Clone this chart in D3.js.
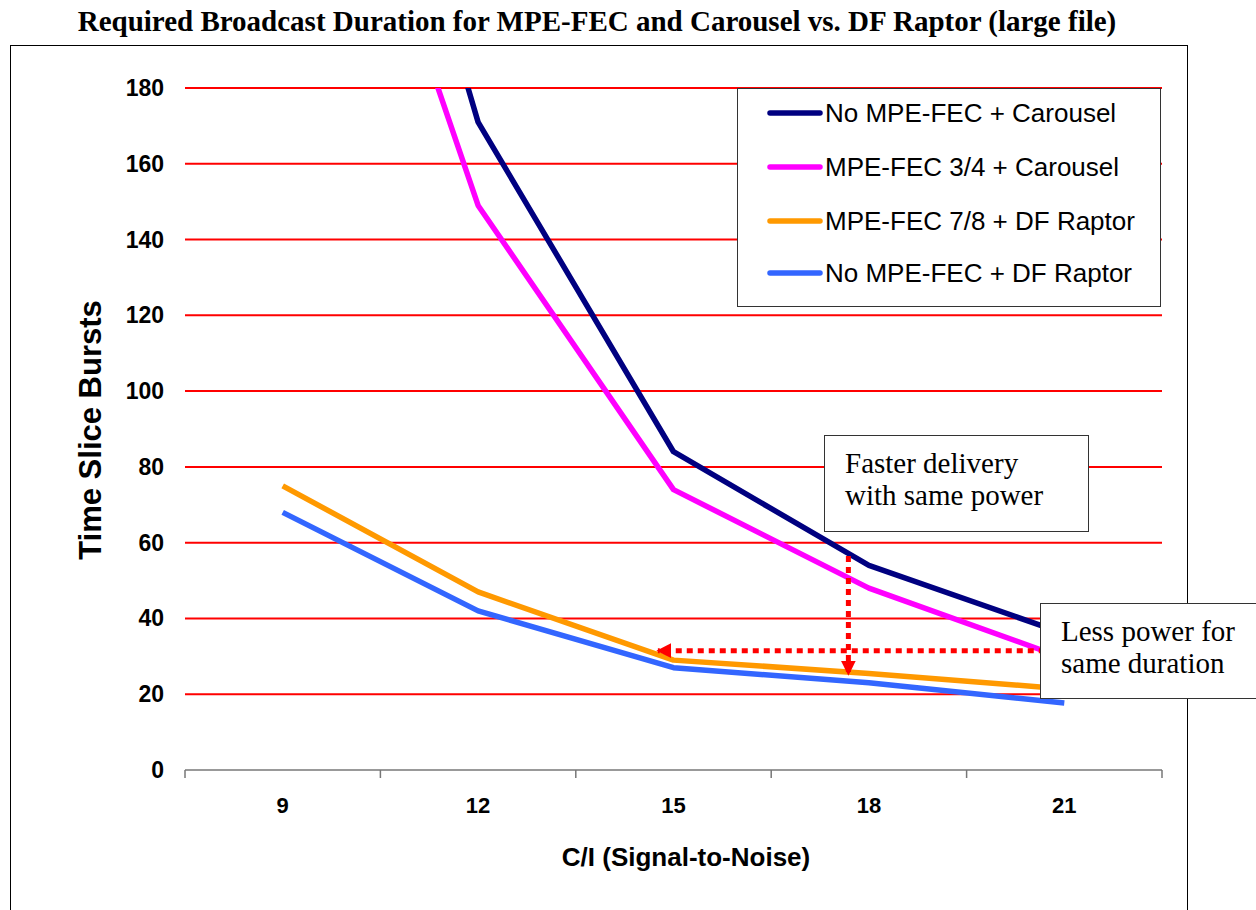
<!DOCTYPE html>
<html>
<head>
<meta charset="utf-8">
<script src="https://cdn.jsdelivr.net/npm/d3@7"></script>
<style>
  body { margin: 0; background: #fff; }
  svg { display: block; }
</style>
</head>
<body>
<div id="chart"></div>
<script>
// data
var categories = [9, 12, 15, 18, 21];
var seriesNames = ["No MPE-FEC + Carousel", "MPE-FEC 3/4 + Carousel", "MPE-FEC 7/8 + DF Raptor", "No MPE-FEC + DF Raptor"];
var noFecCarousel = [346, 171, 84, 54, 36];
var fec34Carousel = [300, 149, 74, 48, 29.5];
var fec78Raptor = [75, 47, 29, 25.5, 21.4];
var noFecRaptor = [68, 42, 27, 23, 17.7];
var yTicks = [0, 20, 40, 60, 80, 100, 120, 140, 160, 180];
var colors = ["#000080", "#ff00ff", "#ff9900", "#3366ff"];

var svgWidth = 1256;
var svgHeight = 910;
var plot = { left: 185, right: 1162, top: 88, bottom: 770 };
var sans = "Liberation Sans, Arial, sans-serif";
var serif = "Liberation Serif, Times New Roman, serif";

var svg = d3.select("#chart")
    .append("svg")
    .attr("width", svgWidth)
    .attr("height", svgHeight);

// title
svg.append("text")
    .attr("x", 597)
    .attr("y", 31)
    .attr("text-anchor", "middle")
    .style("font-family", serif)
    .style("font-weight", "bold")
    .style("font-size", "29px")
    .text("Required Broadcast Duration for MPE-FEC and Carousel vs. DF Raptor (large file)");

// outer frame
svg.append("rect")
    .attr("x", 10.5).attr("y", 45.5)
    .attr("width", 1177).attr("height", 900)
    .attr("fill", "none")
    .attr("stroke", "#000")
    .attr("stroke-width", 1);

//(scales)
var xScale = d3.scalePoint().domain(categories).range([plot.left, plot.right]).padding(0.5);
var xIdx = d3.scaleLinear().domain([-0.5, categories.length - 0.5]).range([plot.left, plot.right]);
var yScale = d3.scaleLinear().domain([0, 180]).range([plot.bottom, plot.top]);

// gridlines
svg.append("g")
    .selectAll("line")
    .data(yTicks.filter(d => d > 0))
    .enter()
    .append("line")
    .attr("x1", plot.left).attr("x2", plot.right)
    .attr("y1", d => yScale(d)).attr("y2", d => yScale(d))
    .attr("stroke", "#ff0000")
    .attr("stroke-width", 2);

// y tick labels
svg.append("g")
    .selectAll("text")
    .data(yTicks)
    .enter()
    .append("text")
    .attr("x", 164)
    .attr("y", d => yScale(d) + 8)
    .attr("text-anchor", "end")
    .style("font-family", sans)
    .style("font-weight", "bold")
    .style("font-size", "23px")
    .text(d => d);

// x axis
var axisG = svg.append("g").attr("stroke", "#777").attr("stroke-width", 1.5);
axisG.append("line")
    .attr("x1", plot.left).attr("x2", plot.right)
    .attr("y1", plot.bottom).attr("y2", plot.bottom);
axisG.selectAll(".tk")
    .data(d3.range(categories.length + 1))
    .enter()
    .append("line")
    .attr("x1", d => xIdx(d - 0.5)).attr("x2", d => xIdx(d - 0.5))
    .attr("y1", plot.bottom).attr("y2", plot.bottom + 8);

svg.append("g")
    .selectAll("text")
    .data(categories)
    .enter()
    .append("text")
    .attr("x", d => xScale(d))
    .attr("y", 813)
    .attr("text-anchor", "middle")
    .style("font-family", sans)
    .style("font-weight", "bold")
    .style("font-size", "22px")
    .text(d => d);

// axis titles
svg.append("text")
    .attr("x", 686).attr("y", 866)
    .attr("text-anchor", "middle")
    .style("font-family", sans)
    .style("font-weight", "bold")
    .style("font-size", "26px")
    .text("C/I (Signal-to-Noise)");

svg.append("text")
    .attr("transform", "translate(101, 430) rotate(-90)")
    .attr("text-anchor", "middle")
    .style("font-family", sans)
    .style("font-weight", "bold")
    .style("font-size", "31px")
    .text("Time Slice Bursts");

// series lines, clipped at the axis max
svg.append("clipPath").attr("id", "plotClip")
    .append("rect")
    .attr("x", plot.left).attr("y", plot.top)
    .attr("width", plot.right - plot.left).attr("height", plot.bottom - plot.top);

var series = [noFecCarousel, fec34Carousel, fec78Raptor, noFecRaptor];
var line = d3.line()
    .x((d, i) => xScale(categories[i]))
    .y(d => yScale(d));

svg.append("g")
    .attr("clip-path", "url(#plotClip)")
    .selectAll("path")
    .data(series)
    .enter()
    .append("path")
    .attr("d", d => line(d))
    .attr("fill", "none")
    .attr("stroke", (d, i) => colors[i])
    .attr("stroke-width", 5.5)
    .attr("stroke-linejoin", "round");

// legend
var legend = svg.append("g");
legend.append("rect")
    .attr("x", 737.5).attr("y", 88.5)
    .attr("width", 423).attr("height", 218)
    .attr("fill", "#fff")
    .attr("stroke", "#333")
    .attr("stroke-width", 1);
var legRows = [113, 167, 221, 273];
seriesNames.forEach(function (name, i) {
    legend.append("line")
        .attr("x1", 770).attr("x2", 820)
        .attr("y1", legRows[i]).attr("y2", legRows[i])
        .attr("stroke", colors[i])
        .attr("stroke-width", 5.5)
        .attr("stroke-linecap", "round");
    legend.append("text")
        .attr("x", 825).attr("y", legRows[i] + 9)
        .style("font-family", sans)
        .style("font-size", "26px")
        .text(name);
});

// annotation arrows (in data units: category index, value)
var arrows = [
    { x1: 2.895, y1: 56.5, x2: 2.895, y2: 25.3 },
    { x1: 3.9, y1: 31.5, x2: 1.92, y2: 31.5 }
];
svg.append("defs").append("marker")
    .attr("id", "arrowHead")
    .attr("viewBox", "0 0 10 10")
    .attr("refX", 9).attr("refY", 5)
    .attr("markerWidth", 15).attr("markerHeight", 16)
    .attr("markerUnits", "userSpaceOnUse")
    .attr("orient", "auto")
    .append("path")
    .attr("d", "M0,0 L10,5 L0,10 Z")
    .attr("fill", "#ff0000");

svg.append("g")
    .selectAll("line")
    .data(arrows)
    .enter()
    .append("line")
    .attr("x1", d => xIdx(d.x1)).attr("y1", d => yScale(d.y1))
    .attr("x2", d => xIdx(d.x2)).attr("y2", d => yScale(d.y2))
    .attr("stroke", "#ff0000")
    .attr("stroke-width", 5)
    .attr("stroke-dasharray", "6,5")
    .attr("marker-end", "url(#arrowHead)");

// text boxes
var notes = [
    { x: 824.5, y: 435.5, w: 264, h: 96, lines: ["Faster delivery", "with same power"], tx: 845, ty: 473 },
    { x: 1040.5, y: 603.5, w: 240, h: 95, lines: ["Less power for", "same duration"], tx: 1061, ty: 641 }
];
notes.forEach(function (n) {
    svg.append("rect")
        .attr("x", n.x).attr("y", n.y)
        .attr("width", n.w).attr("height", n.h)
        .attr("fill", "#fff")
        .attr("stroke", "#333")
        .attr("stroke-width", 1);
    n.lines.forEach(function (t, j) {
        svg.append("text")
            .attr("x", n.tx).attr("y", n.ty + j * 32)
            .style("font-family", serif)
            .style("font-size", "29px")
            .text(t);
    });
});
</script>
</body>
</html>
